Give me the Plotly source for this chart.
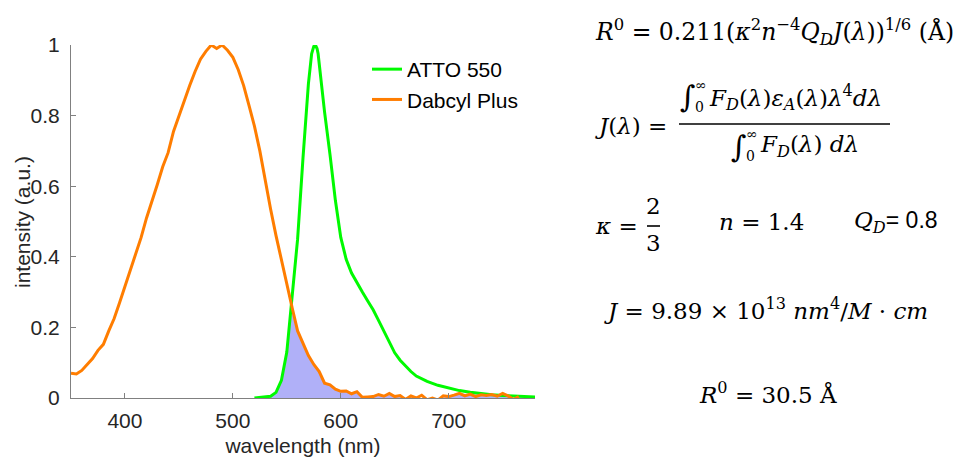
import numpy as np
import plotly.graph_objects as go

# ---- Spectra -------------------------------------------------------------
# Dabcyl Plus absorbance (normalised), 5 nm steps
dabcyl_wl = [350, 355, 360, 365, 370, 375, 380, 385, 390, 395,
             400, 405, 410, 415, 420, 425, 430, 435, 440, 445,
             450, 455, 460, 465, 470, 475, 480, 485, 490, 495,
             500, 505, 510, 515, 520, 525, 530, 535, 540, 545,
             550, 555, 560, 565, 570, 575, 580, 585, 590, 595,
             600, 605, 610, 615, 620, 625, 630, 635, 640, 645,
             650, 655, 660, 665, 670, 675, 680, 685, 690, 695,
             700, 705, 710, 715, 720, 725, 730, 735, 740, 745,
             750, 755, 760, 765]
dabcyl_abs = [0.070, 0.068, 0.078, 0.095, 0.112, 0.135, 0.152, 0.190, 0.225, 0.270,
              0.315, 0.362, 0.405, 0.455, 0.510, 0.555, 0.605, 0.655, 0.695, 0.755,
              0.800, 0.845, 0.885, 0.925, 0.960, 0.982, 1.000, 0.990, 1.000, 0.985,
              0.965, 0.930, 0.885, 0.828, 0.770, 0.700, 0.615, 0.535, 0.460, 0.390,
              0.318, 0.255, 0.190, 0.155, 0.120, 0.095, 0.075, 0.042, 0.037, 0.025,
              0.019, 0.020, 0.012, 0.018, 0.002, 0.003, 0.004, 0.010, 0.005, 0.013,
              0.004, 0.007, -0.004, 0.006, 0.000, 0.008, -0.005, 0.000, -0.006, 0.006,
              0.004, 0.008, 0.013, 0.006, 0.011, 0.004, 0.009, 0.007, 0.010, 0.005,
              0.013, 0.006, -0.004, 0.004]

# ATTO 550 emission (normalised)
atto_wl = [520, 525, 530, 535, 540, 545, 550, 555, 560, 565,
           570, 573, 575, 576.5, 578, 579, 582, 585, 590, 595,
           600, 605, 610, 615, 620, 625, 630, 635, 640, 645,
           650, 655, 660, 665, 670, 680, 690, 700, 710, 720,
           730, 740, 750, 760, 770, 780]
atto_em = [0.000, 0.001, 0.002, 0.005, 0.016, 0.050, 0.130, 0.300, 0.450, 0.680,
           0.890, 0.975, 0.996, 1.000, 0.990, 0.975, 0.885, 0.810, 0.690, 0.560,
           0.455, 0.393, 0.354, 0.325, 0.300, 0.275, 0.250, 0.220, 0.188, 0.157,
           0.128, 0.107, 0.090, 0.075, 0.062, 0.047, 0.036, 0.028, 0.021, 0.016,
           0.012, 0.009, 0.007, 0.005, 0.004, 0.003]

x_ticks = [400, 500, 600, 700]
y_ticks = [0, 0.2, 0.4, 0.6, 0.8, 1]
y_tick_text = ["0", "0.2", "0.4", "0.6", "0.8", "1"]

# ---- Figure geometry (pixels) ---------------------------------------------
W, H = 961, 462
L, R, T, B = 71, 426, 45, 64
PW, PH = W - L - R, H - T - B


def px(x):
    return (x - L) / PW


def py(y):
    return (H - B - y) / PH


ORANGE = "rgb(255,125,0)"
GREEN = "rgb(0,250,0)"
FILL = "rgb(176,176,248)"
SANS = "Liberation Sans, Arial, sans-serif"
EQ = "DejaVu Serif, serif"

# spectral overlap: area under both curves
overlap = np.minimum(np.array(atto_em),
                     np.clip(np.interp(atto_wl, dabcyl_wl, dabcyl_abs), 0, None))

fig = go.Figure()
fig.add_trace(go.Scatter(x=atto_wl, y=overlap, mode="lines", fill="tozeroy",
                         fillcolor=FILL, line=dict(width=0, color=FILL),
                         showlegend=False, hoverinfo="skip"))
fig.add_trace(go.Scatter(x=atto_wl, y=atto_em, mode="lines", name="ATTO 550",
                         line=dict(color=GREEN, width=3), cliponaxis=False))
fig.add_trace(go.Scatter(x=dabcyl_wl, y=dabcyl_abs, mode="lines", name="Dabcyl Plus",
                         line=dict(color=ORANGE, width=3)))

axis_font = dict(family=SANS, size=21, color="#262626")
fig.update_xaxes(range=[350, 780], tickvals=x_ticks, ticks="inside", ticklen=5,
                 tickcolor="#808080", showline=True, linecolor="#808080", linewidth=1,
                 showgrid=False, zeroline=False, tickfont=axis_font,
                 ticklabelstandoff=4,
                 title=dict(text="wavelength (nm)", font=axis_font, standoff=7))
fig.update_yaxes(range=[0, 1], tickvals=y_ticks, ticktext=y_tick_text, ticks="inside",
                 ticklen=5, tickcolor="#808080", showline=True, linecolor="#808080",
                 linewidth=1, showgrid=False, zeroline=False, tickfont=axis_font,
                 ticklabelstandoff=6)

fig.update_layout(
    width=W, height=H, margin=dict(l=L, r=R, t=T, b=B, autoexpand=False),
    paper_bgcolor="white", plot_bgcolor="white",
    legend=dict(x=px(367), y=py(49), xanchor="left", yanchor="top",
                font=dict(family=SANS, size=21, color="black"),
                bgcolor="rgba(0,0,0,0)", itemwidth=30, tracegroupgap=0),
)

# vertical axis title
fig.add_annotation(text="intensity (a.u.)", x=px(22), y=py(222), xref="paper",
                   yref="paper", xanchor="center", yanchor="middle", textangle=-90,
                   showarrow=False, font=axis_font)


# ---- Förster radius equations ---------------------------------------------
def eq(text, x, y, size=23, anchor="left", family=EQ):
    fig.add_annotation(text=text, x=px(x), y=py(y), xref="paper", yref="paper",
                       xanchor=anchor, yanchor="middle", showarrow=False,
                       font=dict(family=family, size=size, color="black"))


def bar(x0, x1, y):
    fig.add_shape(type="line", xref="paper", yref="paper", x0=px(x0), x1=px(x1),
                  y0=py(y), y1=py(y), line=dict(color="black", width=1.6))


eq("<i>R</i><sup>0</sup> = 0.211(<i>κ</i><sup>2</sup><i>n</i><sup>−4</sup>"
   "<i>Q</i><sub><i>D</i></sub><i>J</i>(<i>λ</i>))<sup>1/6</sup> (Å)", 593, 32, size=23.5)

# J(λ) as a fraction
eq("<i>J</i>(<i>λ</i>) =", 593, 126)
bar(679, 890, 124)
eq("∫", 678, 96, size=30)
eq("∞", 693, 85, size=14)
eq("0", 693, 107, size=14)
eq("<i>F</i><sub><i>D</i></sub>(<i>λ</i>)<i>ε</i><sub><i>A</i></sub>(<i>λ</i>)"
   "<i>λ</i><sup>4</sup><i>dλ</i>", 707, 97)
eq("∫", 729, 146, size=30)
eq("∞", 744, 134, size=14)
eq("0", 744, 156, size=14)
eq("<i>F</i><sub><i>D</i></sub>(<i>λ</i>) <i>dλ</i>", 758, 146)

# constants
eq("<i>κ</i> =", 593, 226)
eq("2", 653.5, 206, anchor="center")
bar(647, 660, 226)
eq("3", 653.5, 243, anchor="center")
eq("<i>n</i> = 1.4", 717, 222)
eq("<i>Q</i><sub><i>D</i></sub><span style='font-family:Liberation Sans'>= 0.8</span>", 852, 222)

eq("<i>J</i> = 9.89 × 10<sup>13</sup> <i>nm</i><sup>4</sup>/<i>M</i> · <i>cm</i>",
   766, 309, anchor="center")
eq("<i>R</i><sup>0</sup> = 30.5 Å", 768, 393, anchor="center")

fig.write_html("out.html")
